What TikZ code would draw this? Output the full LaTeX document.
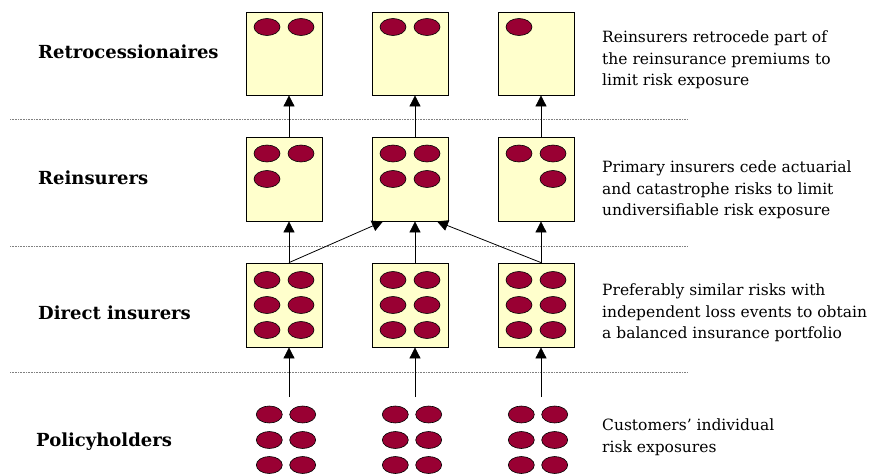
\documentclass[tikz,border=0pt]{standalone}
\usepackage{fontspec}
\setmainfont{DejaVu Serif}
\usetikzlibrary{shapes.geometric,arrows.meta}
\definecolor{boxfill}{HTML}{FFFFCC}
\definecolor{riskred}{HTML}{990033}
\tikzset{
  stage/.style={draw=black,line width=0.8pt,fill=boxfill,minimum width=76pt,minimum height=84pt,inner sep=0pt},
  risk/.style={ellipse,draw=black,line width=0.6pt,fill=riskred,minimum width=26pt,minimum height=17pt,inner sep=0pt},
  sep/.style={draw=gray,line width=0.6pt,dash pattern=on 0.8pt off 0.8pt},
  flow/.style={draw=black,line width=0.8pt,-{Triangle[length=11pt,width=11pt]}},
  tier/.style={anchor=west,font=\fontsize{18}{21}\selectfont\bfseries,inner sep=0pt},
  note/.style={anchor=west,align=left,font=\fontsize{15.5}{21.5}\selectfont,inner sep=0pt}
}
\begin{document}
\begin{tikzpicture}[x=1pt,y=-1pt]
\useasboundingbox (0,0) rectangle (881,474);
% separators
\coordinate (s1a) at (10,119); \coordinate (s1b) at (687,119);
\coordinate (s2a) at (10,246); \coordinate (s2b) at (687,246);
\coordinate (s3a) at (10,372.5); \coordinate (s3b) at (687,372.5);
\draw[sep] (s1a) -- (s1b);
\draw[sep] (s2a) -- (s2b);
\draw[sep] (s3a) -- (s3b);
% tier labels
\node[tier] (t1) at (38,52) {Retrocessionaires};
\node[tier] (t2) at (38,178) {Reinsurers};
\node[tier] (t3) at (38,313) {Direct insurers};
\node[tier] (t4) at (36,442) {Policyholders};
% notes
\node[note] (n1) at (602,60) {Reinsurers retrocede part of\\the reinsurance premiums to\\limit risk exposure};
\node[note] (n2) at (602,190) {Primary insurers cede actuarial\\and catastrophe risks to limit\\undiversifiable risk exposure};
\node[note] (n3) at (602,313) {Preferably similar risks with\\independent loss events to obtain\\a balanced insurance portfolio};
\node[note] (n4) at (602,437) {Customers' individual\\risk exposures};
% boxes
\node[stage,minimum height=83pt] (b11) at (284,53.5) {};
\node[stage,minimum height=83pt] (b12) at (410,53.5) {};
\node[stage,minimum height=83pt] (b13) at (536,53.5) {};
\node[stage] (b21) at (284,179) {};
\node[stage] (b22) at (410,179) {};
\node[stage] (b23) at (536,179) {};
\node[stage] (b31) at (284,305) {};
\node[stage] (b32) at (410,305) {};
\node[stage] (b33) at (536,305) {};
% risks row 1
\node[risk] (r11a) at (267,27) {};
\node[risk] (r11b) at (301,27) {};
\node[risk] (r12a) at (393,27) {};
\node[risk] (r12b) at (427,27) {};
\node[risk] (r13a) at (519,27) {};
% risks row 2
\node[risk] (r21a) at (267,153.5) {};
\node[risk] (r21b) at (301,153.5) {};
\node[risk] (r21c) at (267,179) {};
\node[risk] (r22a) at (393,153.5) {};
\node[risk] (r22b) at (427,153.5) {};
\node[risk] (r22c) at (393,179) {};
\node[risk] (r22d) at (427,179) {};
\node[risk] (r23a) at (519,153.5) {};
\node[risk] (r23b) at (553,153.5) {};
\node[risk] (r23d) at (553,179) {};
% risks row 3
\foreach \c/\x in {1/284,2/410,3/536}{
  \foreach \r/\y in {1/280,2/305,3/330}{
    \node[risk] (r3\c\r a) at (\x-17,\y) {};
    \node[risk] (r3\c\r b) at (\x+17,\y) {};
  }
}
% policyholders
\foreach \c/\x in {1/286,2/412,3/538}{
  \foreach \r/\y in {1/414.5,2/440,3/465}{
    \node[risk] (p\c\r a) at (\x-16.7,\y) {};
    \node[risk] (p\c\r b) at (\x+16.7,\y) {};
  }
}
% arrows
\coordinate (q1) at (289,397);
\coordinate (q2) at (415,397);
\coordinate (q3) at (541,397);
\draw[flow] (q1) -- ([xshift=5pt]b31.south);
\draw[flow] (q2) -- ([xshift=5pt]b32.south);
\draw[flow] (q3) -- ([xshift=5pt]b33.south);
\draw[flow] ([xshift=5pt]b31.north) -- ([xshift=5pt]b21.south);
\draw[flow] ([xshift=5pt]b32.north) -- ([xshift=5pt]b22.south);
\draw[flow] ([xshift=5pt]b33.north) -- ([xshift=5pt]b23.south);
\draw[flow] ([xshift=5pt]b31.north) -- ([xshift=-27pt]b22.south);
\draw[flow] ([xshift=5pt]b33.north) -- ([xshift=27pt]b22.south);
\draw[flow] ([xshift=5pt]b21.north) -- ([xshift=5pt]b11.south);
\draw[flow] ([xshift=5pt]b22.north) -- ([xshift=5pt]b12.south);
\draw[flow] ([xshift=5pt]b23.north) -- ([xshift=5pt]b13.south);
\end{tikzpicture}
\end{document}
